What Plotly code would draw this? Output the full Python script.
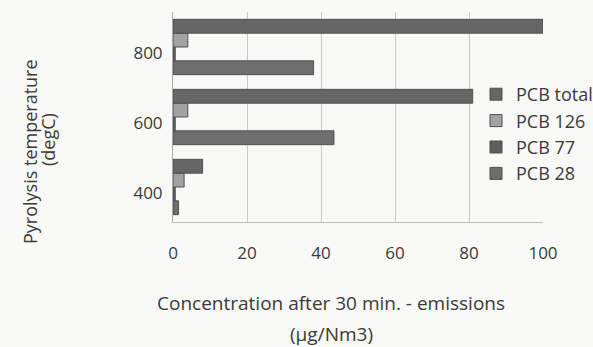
import plotly.graph_objects as go

categories = ["400", "600", "800"]
pcb_total = [8, 81, 100]
pcb_126 = [3, 4, 4]
pcb_77 = [0.6, 0.6, 0.6]
pcb_28 = [1.5, 43.5, 38]

series = [
    ("PCB 28", pcb_28, "#6e6e6e", 4),
    ("PCB 77", pcb_77, "#5e5e5e", 3),
    ("PCB 126", pcb_126, "#a2a2a2", 2),
    ("PCB total", pcb_total, "#666666", 1),
]

TXT = "#3a3a3a"
BG = "#f8f8f6"
FONT = "Open Sans, Lato, sans-serif"

fig = go.Figure()
for name, vals, col, rank in series:
    fig.add_trace(go.Bar(
        y=categories, x=vals, name=name, orientation="h",
        legendgroup=name, legendrank=rank,
        marker=dict(color=col, line=dict(color="#505050", width=1)),
    ))

L, R, T, B = 173, 50, 12, 125
W = 593 - L - R
H = 347 - T - B
BOTTOM = 347 - B

fig.update_layout(
    width=593, height=347,
    margin=dict(l=L, r=R, t=T, b=B, autoexpand=False),
    paper_bgcolor=BG, plot_bgcolor=BG,
    barmode="group", bargap=0.21, bargroupgap=0,
    font=dict(family=FONT, color=TXT, size=17),
    showlegend=True,
    legend=dict(
        xref="container", yref="container",
        x=476 / 593, xanchor="left",
        y=1 - 76 / 347, yanchor="top",
        traceorder="grouped", tracegroupgap=0,
        font=dict(size=18, color=TXT),
        bgcolor=BG, itemwidth=30,
    ),
)
fig.update_xaxes(
    range=[0, 100], tickvals=[0, 20, 40, 60, 80, 100],
    showgrid=True, gridcolor="#c8c8c8", gridwidth=1,
    zeroline=False, showline=True, linecolor="#bdbdbd",
    ticklabelstandoff=16, tickfont=dict(size=17),
)
fig.update_yaxes(
    showgrid=False, showline=True, linecolor="#a8a8a8",
    ticklabelstandoff=6, ticklabelshift=6, tickfont=dict(size=17),
)


def add_text(text, px, py, angle=0, size=19):
    fig.add_annotation(
        text=text, textangle=angle,
        x=(px - L) / W, y=(BOTTOM - py) / H,
        xref="paper", yref="paper", xanchor="center", yanchor="middle",
        showarrow=False, font=dict(size=size, color=TXT),
    )


add_text("Concentration after 30 min. - emissions", 331, 303)
add_text("(µg/Nm3)", 331, 334)
add_text("Pyrolysis temperature", 30, 152, -90, 18)
add_text("(degC)", 48, 140, -90, 18)

fig.write_html("out.html")
